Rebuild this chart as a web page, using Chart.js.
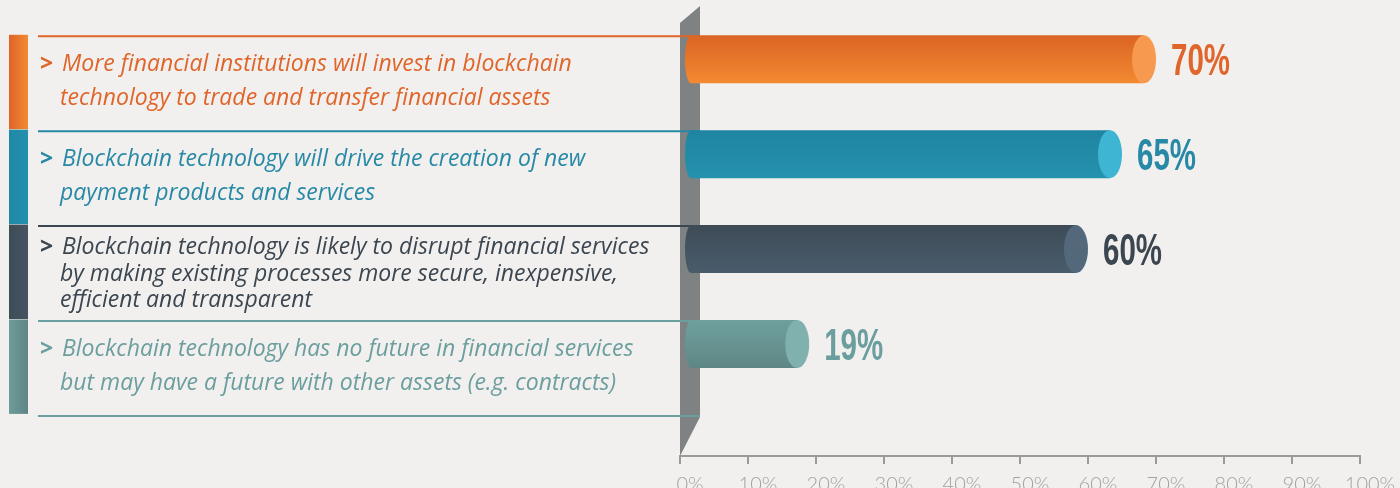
<!DOCTYPE html>
<html>
<head>
<meta charset="utf-8">
<script src="https://cdn.jsdelivr.net/npm/chart.js@4.4.1/dist/chart.umd.min.js"></script>
<style>
  html, body { margin: 0; padding: 0; background: #f2f0ee; overflow: hidden; }
  #contenedor { position: relative; width: 1400px; height: 506px; }
</style>
</head>
<body>
<div id="contenedor"><canvas id="grafico"></canvas></div>
<script>
// datos del grafico
var categorias = [
  ["More financial institutions will invest in blockchain", "technology to trade and transfer financial assets"],
  ["Blockchain technology will drive the creation of new", "payment products and services"],
  ["Blockchain technology is likely to disrupt financial services", "by making existing processes more secure, inexpensive,", "efficient and transparent"],
  ["Blockchain technology has no future in financial services", "but may have a future with other assets (e.g. contracts)"]
];
var valores = [70, 65, 60, 19];
var etiquetasEjeX = ["0%", "10%", "20%", "30%", "40%", "50%", "60%", "70%", "80%", "90%", "100%"];

// estilos de cada fila
var colores = [
  { franja: ["#de6428", "#f28a31"], arriba: "#db6425", abajo: "#f38a31", tapa: "#f7994e", texto: "#e0652a" },
  { franja: ["#1f88a6", "#2390ac"], arriba: "#1f84a1", abajo: "#2592ae", tapa: "#3db5d3", texto: "#2789a6" },
  { franja: ["#3e4c58", "#455460"], arriba: "#3e4b57", abajo: "#495c6b", tapa: "#53697b", texto: "#3b4651" },
  { franja: ["#6c9c9b", "#5e8583"], arriba: "#6fa09e", abajo: "#5e8784", tapa: "#80b1af", texto: "#6b9e9e" }
];
var fondo = "#f2f0ee";
var centroPrimera = 59.3;  // centro de la primera barra
var altoFila = 94.9;       // distancia entre filas

// plugin que dibuja el panel izquierdo, el poste gris y las barras cilindricas
var infografia = {
  id: "infografia",
  afterLayout: function (chart) {
    // ajustar el eje y para que las filas caigan donde estan en la imagen
    var ca = chart.chartArea;
    var s = chart.scales.y;
    s.min = -(centroPrimera - ca.top) / altoFila;
    s.max = s.min + ca.height / altoFila;
    s.configure();
  },
  beforeDraw: function (chart) {
    var ctx = chart.ctx;
    ctx.save();
    ctx.fillStyle = fondo;
    ctx.fillRect(0, 0, chart.width, chart.height);
    ctx.restore();
  },
  beforeDatasetsDraw: function (chart) {
    var ctx = chart.ctx;
    var yEje = chart.scales.y;
    var xEje = chart.scales.x;
    var x0 = xEje.getPixelForValue(0);
    var paso = yEje.getPixelForValue(1) - yEje.getPixelForValue(0);

    // tamaño de letra ajustado al ancho de la primera linea
    ctx.save();
    ctx.font = 'italic 20px "Open Sans"';
    var ancho = ctx.measureText(categorias[0][0]).width;
    var tam = 20 * 510 / ancho;

    // poste gris
    var abajo = chart.chartArea.bottom;
    ctx.fillStyle = "#7f8282";
    ctx.beginPath();
    ctx.moveTo(x0, 23);
    ctx.lineTo(x0 + 20, 6);
    ctx.lineTo(x0 + 20, yEje.getPixelForValue(3) + paso - 22);
    ctx.lineTo(x0, abajo);
    ctx.closePath();
    ctx.fill();

    for (var i = 0; i < categorias.length; i++) {
      var c = yEje.getPixelForValue(i);
      var arriba = c - 23;
      var sig = c + paso - 23;
      var col = colores[i];

      // franja de color a la izquierda
      var g = ctx.createLinearGradient(9, 0, 28, 0);
      g.addColorStop(0, col.franja[0]);
      g.addColorStop(1, col.franja[1]);
      ctx.fillStyle = g;
      ctx.fillRect(9, arriba - 1.5, 19, sig - arriba - 0.5);

      // linea horizontal
      ctx.strokeStyle = col.texto;
      ctx.lineWidth = 2;
      ctx.beginPath();
      ctx.moveTo(38, arriba);
      ctx.lineTo(x0 + 20, arriba);
      ctx.stroke();
      if (i === categorias.length - 1) {
        ctx.beginPath();
        ctx.moveTo(38, sig);
        ctx.lineTo(x0 + 20, sig);
        ctx.stroke();
      }

      // texto
      var lineas = categorias[i];
      var base, salto;
      if (lineas.length === 2) { base = c + 12; salto = 34; } else { base = c + 5; salto = 26.5; }
      ctx.fillStyle = col.texto;
      ctx.textBaseline = "alphabetic";
      ctx.textAlign = "left";
      ctx.font = 'bold ' + tam + 'px "Open Sans"';
      ctx.fillText(">", 40, base);
      ctx.font = 'italic ' + tam + 'px "Open Sans"';
      for (var j = 0; j < lineas.length; j++) {
        ctx.fillText(lineas[j], j === 0 ? 62 : 60, base + j * salto);
      }
    }
    ctx.restore();
  },
  beforeDatasetDraw: function () {
    return false;
  },
  afterDatasetsDraw: function (chart) {
    var ctx = chart.ctx;
    var meta = chart.getDatasetMeta(0);
    ctx.save();
    meta.data.forEach(function (barra, i) {
      var col = colores[i];
      var h = barra.height;
      var top = barra.y - h / 2;
      var bot = barra.y + h / 2;
      var izq = barra.base + 10;
      var capX = barra.x - 12;

      // cuerpo del cilindro
      var g = ctx.createLinearGradient(0, top, 0, bot);
      g.addColorStop(0, col.arriba);
      g.addColorStop(1, col.abajo);
      ctx.fillStyle = g;
      ctx.beginPath();
      ctx.moveTo(izq, top);
      ctx.lineTo(capX, top);
      ctx.lineTo(capX, bot);
      ctx.lineTo(izq, bot);
      ctx.ellipse(izq, barra.y, 6, h / 2, 0, Math.PI / 2, Math.PI * 1.5);
      ctx.closePath();
      ctx.fill();

      // tapa
      ctx.fillStyle = col.tapa;
      ctx.beginPath();
      ctx.ellipse(capX, barra.y, 12, h / 2, 0, 0, Math.PI * 2);
      ctx.fill();

      // valor
      ctx.save();
      ctx.translate(barra.x + 15, barra.y + 16);
      ctx.scale(0.67, 1);
      ctx.fillStyle = col.texto;
      ctx.font = 'bold 44px "Liberation Sans"';
      ctx.textBaseline = "alphabetic";
      ctx.textAlign = "left";
      ctx.fillText(valores[i] + "%", 0, 0);
      ctx.restore();
    });
    ctx.restore();
  }
};

var ctx = document.getElementById("grafico").getContext("2d");
new Chart(ctx, {
  type: "bar",
  data: {
    datasets: [{
      data: valores.map(function (v, i) { return { x: v, y: i }; }),
      barThickness: 48,
      backgroundColor: "transparent"
    }]
  },
  options: {
    indexAxis: "y",
    responsive: true,
    maintainAspectRatio: false,
    animation: false,
    layout: { padding: { left: 680, right: 40, top: 0, bottom: 0 } },
    plugins: { legend: { display: false }, tooltip: { enabled: false } },
    scales: {
      x: {
        type: "linear",
        min: 0,
        max: 100,
        position: "bottom",
        border: { color: "#9a9a9a", width: 2 },
        grid: { display: true, drawOnChartArea: false, drawTicks: true, tickLength: 8, color: "#9a9a9a", lineWidth: 2 },
        ticks: {
          stepSize: 10,
          padding: 9,
          labelOffset: 10,
          color: "#a2a2a2",
          font: { family: "Lato", size: 20, weight: 300 },
          callback: function (v, i) { return etiquetasEjeX[i]; }
        }
      },
      y: {
        type: "linear",
        display: false,
        offset: false,
        reverse: true
      }
    }
  },
  plugins: [infografia]
});
</script>
</body>
</html>
